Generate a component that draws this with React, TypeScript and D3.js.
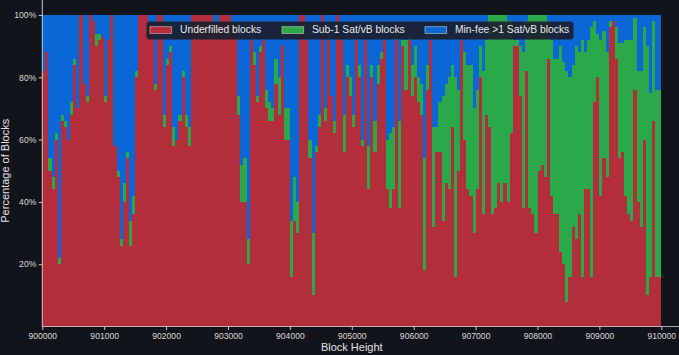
import React, { useEffect, useRef } from 'react';
import * as d3 from 'd3';

// chart size and plot box
const width = 679,
  height = 355,
  plotLeft = 42.3,
  plotRight = 661.3,
  plotTop = 15,
  plotBottom = 326.5,
  bg = '#12141c',
  red = '#b32e3d',
  green = '#2ba84a',
  blue = '#0b67d6';

// block bins (50 blocks each)
const firstBlock = 900000;
const binSize = 50;
const blocks = d3.range(900000, 910000, binSize);

// % of blocks per bin
const underfilled = [
  82, 88, 50, 44, 60, 20, 66, 64, 60, 68, 84, 70, 100, 78, 72, 100, 98, 90, 92, 93,
  72, 92, 100, 58, 48, 26, 40, 54, 26, 36, 80, 100, 100, 100, 97, 97, 76, 100, 100, 64,
  84, 88, 58, 60, 66, 80, 64, 58, 100, 100, 100, 100, 100, 100, 100, 97, 97, 100, 100, 100,
  100, 97, 97, 68, 40, 40, 20, 92, 84, 72, 88, 92, 70, 66, 66, 78, 68, 90, 60, 60,
  16, 34, 30, 100, 100, 92, 54, 10, 56, 64, 100, 66, 92, 74, 62, 100, 92, 56, 80, 74,
  64, 92, 80, 58, 92, 44, 80, 56, 78, 86, 92, 44, 38, 44, 92, 38, 90, 76, 92, 74,
  80, 72, 68, 18, 76, 92, 32, 56, 56, 34, 46, 44, 64, 16, 50, 92, 60, 44, 42, 30,
  44, 80, 36, 68, 64, 36, 38, 46, 40, 46, 40, 62, 90, 90, 74, 38, 82, 38, 36, 30,
  50, 52, 48, 86, 42, 36, 36, 24, 20, 8, 16, 32, 28, 36, 16, 44, 44, 16, 72, 80,
  42, 54, 48, 96, 98, 86, 54, 56, 42, 36, 34, 76, 40, 32, 60, 10, 16, 66, 16, 16,
];
const sub1 = [
  0, 0, 4, 4, 2, 2, 2, 2, 0, 4, 2, 0, 0, 0, 2, 0, 0, 4, 2, 0,
  2, 0, 0, 0, 2, 2, 6, 2, 8, 6, 2, 0, 0, 0, 0, 0, 2, 0, 0, 4,
  2, 2, 6, 0, 2, 2, 4, 6, 0, 0, 0, 0, 0, 0, 0, 0, 0, 0, 0, 0,
  0, 0, 0, 6, 12, 14, 8, 0, 4, 2, 2, 0, 6, 6, 4, 8, 12, 0, 10, 10,
  18, 14, 10, 0, 0, 0, 6, 20, 2, 4, 0, 4, 0, 0, 4, 0, 0, 12, 4, 6,
  4, 0, 4, 2, 0, 14, 4, 10, 6, 2, 0, 16, 24, 20, 4, 28, 2, 16, 2, 10,
  10, 8, 10, 36, 8, 0, 32, 8, 16, 40, 32, 36, 20, 64, 26, 0, 28, 40, 42, 40,
  32, 10, 46, 24, 36, 64, 62, 54, 60, 54, 58, 36, 2, 2, 16, 50, 16, 62, 64, 70,
  50, 48, 52, 12, 50, 50, 50, 66, 65, 74, 64, 52, 62, 52, 76, 44, 48, 80, 26, 14,
  50, 41, 40, 2, 0, 10, 37, 35, 50, 56, 58, 23, 42, 50, 36, 80, 59, 32, 60, 60,
];
const minFee = [
  18, 12, 46, 52, 38, 78, 32, 34, 40, 28, 14, 30, 0, 22, 26, 0, 2, 6, 6, 7,
  26, 8, 0, 42, 50, 72, 54, 44, 66, 58, 18, 0, 0, 0, 3, 3, 22, 0, 0, 32,
  14, 10, 36, 40, 32, 18, 32, 36, 0, 0, 0, 0, 0, 0, 0, 3, 3, 0, 0, 0,
  0, 3, 3, 26, 48, 46, 72, 8, 12, 26, 10, 8, 24, 28, 30, 14, 20, 10, 30, 30,
  66, 52, 60, 0, 0, 8, 40, 70, 42, 32, 0, 30, 8, 26, 34, 0, 8, 32, 16, 20,
  32, 8, 16, 40, 8, 42, 16, 34, 16, 12, 8, 40, 38, 36, 4, 34, 8, 8, 6, 16,
  10, 20, 22, 46, 16, 8, 36, 36, 28, 26, 22, 20, 16, 20, 24, 8, 12, 16, 16, 30,
  24, 10, 18, 8, 0, 0, 0, 0, 0, 0, 2, 2, 8, 8, 10, 12, 2, 0, 0, 0,
  0, 0, 0, 2, 8, 14, 14, 10, 15, 18, 20, 16, 10, 12, 8, 12, 8, 4, 2, 6,
  8, 5, 12, 2, 2, 4, 9, 9, 8, 8, 8, 1, 18, 18, 4, 10, 25, 2, 24, 24,
];

const keys = ['underfilled', 'sub1', 'minFee'];
const seriesColors = { underfilled: red, sub1: green, minFee: blue };
const legendItems = [
  { label: 'Underfilled blocks', color: red },
  { label: 'Sub-1 Sat/vB blocks', color: green },
  { label: 'Min-fee >1 Sat/vB blocks', color: blue },
];
const xTicks = d3.range(900000, 910001, 1000);
const yTicks = [20, 40, 60, 80, 100];

const font = "'Liberation Sans', Arial, sans-serif";

export default function App() {
  const xAxisRef = useRef(null);
  const yAxisRef = useRef(null);

  const xScale = d3.scaleLinear().domain([firstBlock, 910000]).range([plotLeft, plotRight]);
  const yScale = d3.scaleLinear().domain([0, 100]).range([plotBottom, plotTop]);

  const table = blocks.map((b, i) => ({
    block: b,
    underfilled: underfilled[i],
    sub1: sub1[i],
    minFee: minFee[i],
  }));
  const stacked = d3.stack().keys(keys)(table);

  useEffect(() => {
    document.body.style.margin = '0';
    document.body.style.background = bg;

    const xAxis = d3.axisBottom(xScale).tickValues(xTicks).tickFormat(d3.format('d')).tickSize(3.5).tickPadding(3);
    const yAxis = d3.axisLeft(yScale).tickValues(yTicks).tickFormat(d => `${d}%`).tickSize(3.5).tickPadding(2.5);

    const gx = d3.select(xAxisRef.current).call(xAxis);
    const gy = d3.select(yAxisRef.current).call(yAxis);
    [gx, gy].forEach(g => {
      g.select('.domain').remove();
      g.selectAll('line').attr('stroke', '#c8c8c8');
      g.selectAll('text').attr('fill', '#d8d8d8').style('font-family', font).style('font-size', '8.6px');
    });
  }, []);

  const legendX = [150, 282, 425];

  // whole-pixel bar edges, crisp, so neighbouring bars leave no seams
  return (
    <svg width={width} height={height} style={{ display: 'block', background: bg }}>
      <g shapeRendering="crispEdges">
        {table.map((row, i) => {
          const x0 = Math.round(xScale(row.block));
          const x1 = Math.round(xScale(row.block + binSize));
          return (
            <g key={i}>
              {stacked.map(s => {
                const d = s[i];
                const yTop = Math.round(yScale(d[1]));
                const yBot = Math.round(yScale(d[0]));
                if (yBot - yTop <= 0) return null;
                return <rect key={s.key} x={x0} y={yTop} width={x1 - x0} height={yBot - yTop} fill={seriesColors[s.key]} />;
              })}
            </g>
          );
        })}
      </g>

      {/* spines */}
      <line x1={plotLeft} x2={plotLeft} y1={0} y2={plotBottom} stroke="#c8c8c8" strokeWidth={1} />
      <line x1={plotLeft} x2={width} y1={plotBottom} y2={plotBottom} stroke="#d8d8d8" strokeOpacity={0.75} strokeWidth={1.2} />

      <g ref={xAxisRef} transform={`translate(0, ${plotBottom})`} />
      <g ref={yAxisRef} transform={`translate(${plotLeft}, 0)`} />

      {/* legend */}
      <rect x={146.5} y={21.5} width={427} height={18} rx={3} fill="#1b2030" fillOpacity={0.92} />
      {legendItems.map((item, i) => (
        <g key={item.label} transform={`translate(${legendX[i]}, 0)`}>
          <rect x={0} y={26.7} width={21.7} height={6.7} fill={item.color} stroke="#ffffff" strokeOpacity={0.55} strokeWidth={0.8} />
          <text x={30} y={30.2} dominantBaseline="middle" fill="#e8e8e8" style={{ fontFamily: font, fontSize: '10.3px' }}>
            {item.label}
          </text>
        </g>
      ))}

      {/* axis labels */}
      <text x={(plotLeft + plotRight) / 2} y={351} textAnchor="middle" fill="#e0e0e0" style={{ fontFamily: font, fontSize: '11px' }}>
        Block Height
      </text>
      <text transform={`translate(9, ${(plotTop + plotBottom) / 2}) rotate(-90)`} textAnchor="middle" fill="#e0e0e0" style={{ fontFamily: font, fontSize: '11px' }}>
        Percentage of Blocks
      </text>
    </svg>
  );
}
